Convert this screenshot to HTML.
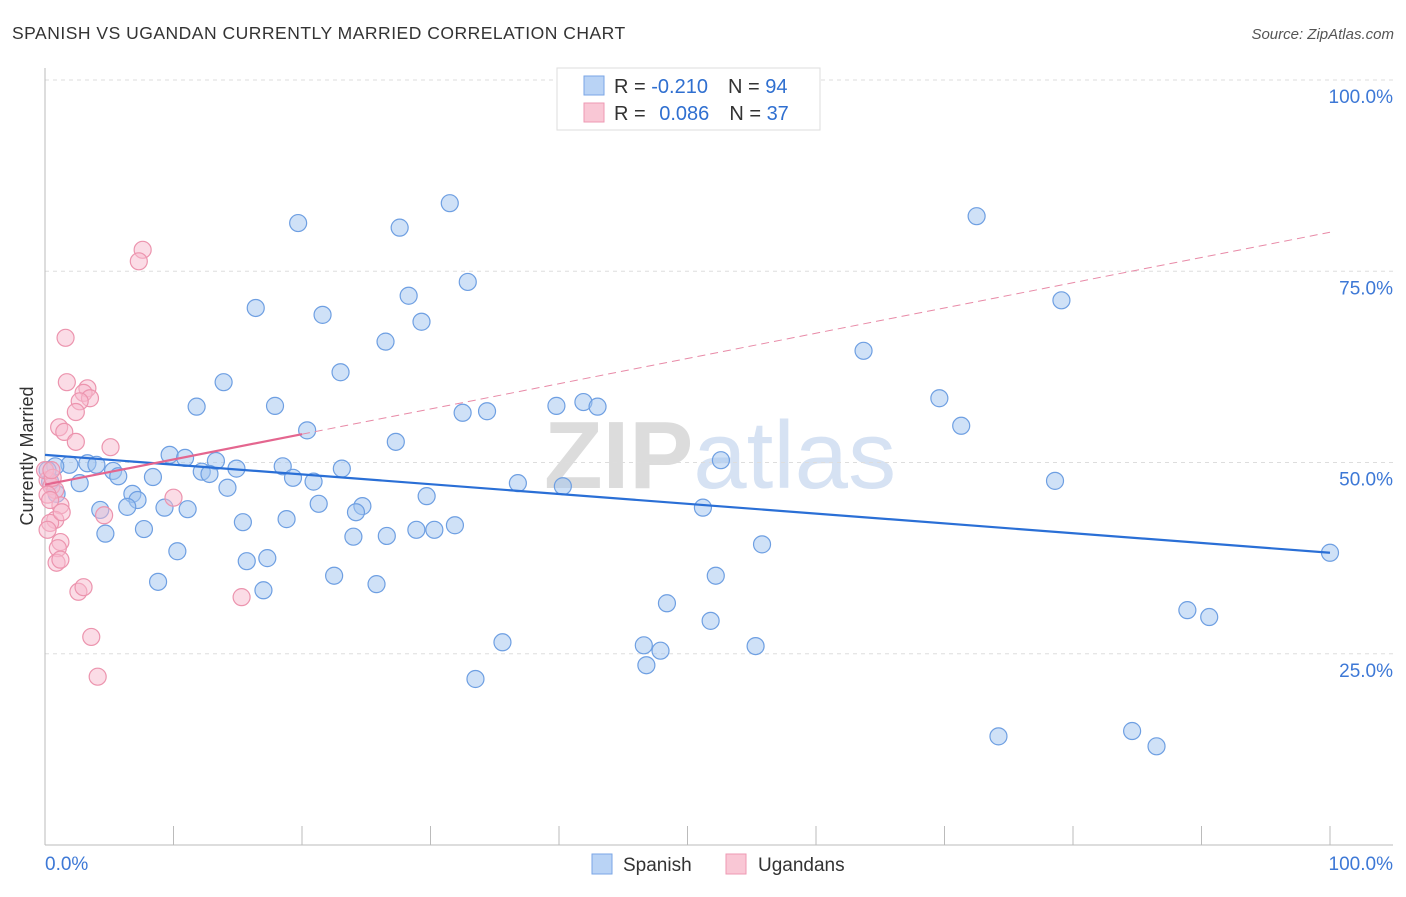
<!DOCTYPE html>
<html><head><meta charset="utf-8"><style>
body{margin:0;background:#fff;font-family:"Liberation Sans",sans-serif}
svg text{font-family:"Liberation Sans",sans-serif}
</style></head><body>
<svg id="chart" width="1406" height="892" xmlns="http://www.w3.org/2000/svg">
<text x="12" y="39" font-size="17.5" letter-spacing="0.5" fill="#333">SPANISH VS UGANDAN CURRENTLY MARRIED CORRELATION CHART</text>
<text x="1394" y="39" font-size="15" fill="#555" font-style="italic" text-anchor="end">Source: ZipAtlas.com</text>
<text x="720" y="488" font-size="96" fill="#e4e4e4" text-anchor="middle" font-family="Liberation Serif"><tspan fill="#dcdcdc" font-weight="bold">ZIP</tspan><tspan fill="#d6e2f3" font-family="Liberation Sans">atlas</tspan></text>
<g id="grid"></g>
<g id="axes"></g>
<g id="points"></g>
<g id="trends"></g>
<text x="33" y="456" font-size="18" fill="#333" text-anchor="middle" transform="rotate(-90 33 456)">Currently Married</text>
<g>
<rect x="557" y="68" width="263" height="62" fill="#fff" stroke="#ddd"/>
<rect x="584" y="76" width="20" height="19" fill="#b9d3f5" stroke="#7aa6e6"/>
<rect x="584" y="103" width="20" height="19" fill="#f9c7d5" stroke="#ee99b3"/>
<text x="614" y="93" font-size="20" fill="#333">R = <tspan fill="#2f6fd0">-0.210</tspan><tspan dx="20">N = </tspan><tspan fill="#2f6fd0">94</tspan></text>
<text x="614" y="120" font-size="20" fill="#333">R = <tspan fill="#2f6fd0" dx="8">0.086</tspan><tspan dx="20">N = </tspan><tspan fill="#2f6fd0">37</tspan></text>
</g>
<g>
<rect x="592" y="854" width="20" height="20" fill="#b9d3f5" stroke="#7aa6e6"/>
<text x="623" y="871" font-size="19" fill="#333">Spanish</text>
<rect x="726" y="854" width="20" height="20" fill="#f9c7d5" stroke="#ee99b3"/>
<text x="758" y="871" font-size="19" fill="#333">Ugandans</text>
</g>
</svg>
<script>
const spanishX=[19.7,31.5,27.6,72.5,16.4,32.9,28.3,21.6,29.3,79.1,26.5,63.7,23.0,13.9,11.8,17.9,32.5,34.4,39.8,41.9,43.0,69.6,71.3,20.4,27.3,9.7,10.9,13.3,52.6,3.3,4.0,1.9,0.8,5.3,5.7,8.4,12.2,12.8,14.9,18.5,19.3,20.9,23.1,36.8,40.3,78.6,2.7,0.9,14.2,6.8,7.2,29.7,4.3,6.4,9.3,11.1,21.3,24.7,24.2,15.4,18.8,51.2,31.9,28.9,30.3,24.0,26.6,4.7,7.7,55.8,10.3,15.7,17.3,8.8,22.5,25.8,17.0,52.2,48.4,88.9,90.6,51.8,35.6,46.6,47.9,55.3,46.8,33.5,74.2,84.6,86.5,100,0.4,0.2];
const spanishY=[81.3,83.9,80.7,82.2,70.2,73.6,71.8,69.3,68.4,71.2,65.8,64.6,61.8,60.5,57.3,57.4,56.5,56.7,57.4,57.9,57.3,58.4,54.8,54.2,52.7,51.0,50.6,50.2,50.3,49.9,49.7,49.7,49.5,48.9,48.2,48.1,48.8,48.5,49.2,49.5,48.0,47.5,49.2,47.3,46.9,47.6,47.3,45.9,46.7,45.9,45.1,45.6,43.8,44.2,44.1,43.9,44.6,44.3,43.5,42.2,42.6,44.1,41.8,41.2,41.2,40.3,40.4,40.7,41.3,39.3,38.4,37.1,37.5,34.4,35.2,34.1,33.3,35.2,31.6,30.7,29.8,29.3,26.5,26.1,25.4,26.0,23.5,21.7,14.2,14.9,12.9,38.2,47.5,49.0];
const ugandanX=[7.6,7.3,1.6,1.7,3.3,3.0,3.5,2.7,2.4,1.1,1.5,5.1,2.4,10.0,0.2,0.5,0.8,1.2,4.6,0.8,0.4,0.2,1.2,1.0,0.9,1.2,2.6,3.0,15.3,3.6,4.1,0,0.6,0.2,0.4,1.3,0.5];
const ugandanY=[77.8,76.3,66.3,60.5,59.7,59.1,58.4,58.0,56.6,54.6,54.0,52.0,52.7,45.4,47.7,46.9,46.4,44.4,43.1,42.5,42.1,41.2,39.6,38.8,36.9,37.3,33.1,33.7,32.4,27.2,22.0,49.0,48.0,45.8,45.1,43.5,49.0];
const yTicks=[25,50,75,100];
const yTickLabels=["25.0%","50.0%","75.0%","100.0%"];
const xTickLabels=["0.0%","100.0%"];
const spanishTrend=[51.0,38.2];
const ugandanTrend=[47.1,80.1];
const NS="http://www.w3.org/2000/svg";
const X0=45,X1=1330,Y0=845,Y1=80;
function sx(v){return X0+(X1-X0)*v/100;}
function sy(v){return Y0-(Y0-Y1)*v/100;}
function mk(tag,attrs,parent){const e=document.createElementNS(NS,tag);for(const k in attrs)e.setAttribute(k,attrs[k]);parent.appendChild(e);return e;}
const grid=document.getElementById('grid'),axes=document.getElementById('axes'),pts=document.getElementById('points'),tr=document.getElementById('trends');
yTicks.forEach((t,i)=>{
 const l=mk('line',{x1:X0,x2:1393,y1:sy(t),y2:sy(t),stroke:'#ddd','stroke-dasharray':'4,4'},grid);
 
 
 const tx=mk('text',{x:1393,y:sy(t)+23,'font-size':19,fill:'#3d78d6','text-anchor':'end'},axes);
 tx.textContent=yTickLabels[i];
 
 
});
const la=mk('line',{x1:X0,x2:X0,y1:68,y2:Y0,stroke:'#bbb'},axes);


const ba=mk('line',{x1:X0,x2:1393,y1:Y0,y2:Y0,stroke:'#bbb'},axes);


for(let i=0;i<=10;i++){
 const t=mk('line',{x1:sx(i*10),x2:sx(i*10),y1:826,y2:Y0,stroke:'#bbb'},axes);
 
 
}
[[0,'start',45],[100,'end',1393]].forEach((a,i)=>{
 const tx=mk('text',{x:a[2],y:870,'font-size':19,fill:'#3d78d6','text-anchor':a[1]},axes);
 tx.textContent=xTickLabels[i];
 
 
});
spanishX.forEach((v,i)=>{
 const c=mk('circle',{cx:sx(v),cy:sy(spanishY[i]),r:8.5,fill:'rgba(160,195,240,0.5)',stroke:'#6e9fe2','stroke-width':1.2},pts);
 
 
});
ugandanX.forEach((v,i)=>{
 const c=mk('circle',{cx:sx(v),cy:sy(ugandanY[i]),r:8.5,fill:'rgba(248,185,205,0.5)',stroke:'#ec94ae','stroke-width':1.2},pts);
 
 
});
const bt=mk('line',{x1:sx(0),y1:sy(spanishTrend[0]),x2:sx(100),y2:sy(spanishTrend[1]),stroke:'#2a6fd6','stroke-width':2.2},tr);


const f=20,um=ugandanTrend[0]+(ugandanTrend[1]-ugandanTrend[0])*f/100;
const ps=mk('line',{x1:sx(0),y1:sy(ugandanTrend[0]),x2:sx(f),y2:sy(um),stroke:'#e4668f','stroke-width':2.2},tr);


const pd=mk('line',{x1:sx(f),y1:sy(um),x2:sx(100),y2:sy(ugandanTrend[1]),stroke:'#e88aa7','stroke-width':1,'stroke-dasharray':'8,5'},tr);


</script>
</body></html>
